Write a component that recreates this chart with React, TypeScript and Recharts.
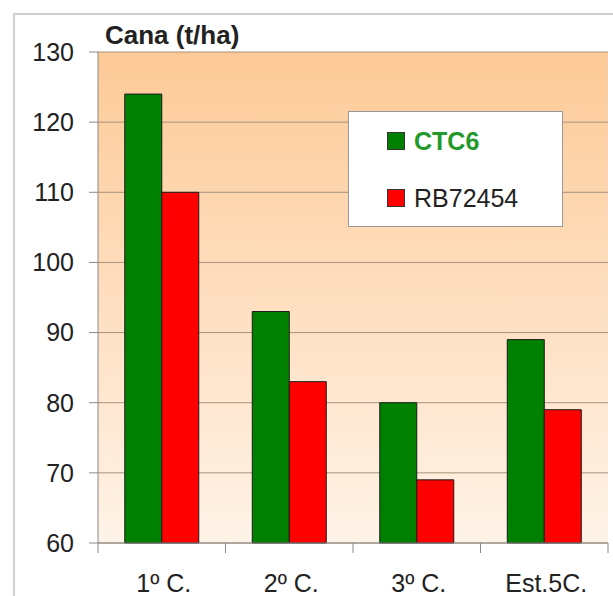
import React from "react";
import { BarChart, Bar, XAxis, YAxis, CartesianGrid } from "recharts";

const categories = ["1º C.", "2º C.", "3º C.", "Est.5C."];
const ctc6 = [124, 93, 80, 89];
const rb72454 = [110, 83, 69, 79];
const yTicks = [60, 70, 80, 90, 100, 110, 120, 130];

const series = [
  { key: "CTC6", fill: "#008000", text: "#22992a", bold: true },
  { key: "RB72454", fill: "#ff0000", text: "#222", bold: false },
];

const data = categories.map((name, i) => ({
  name,
  CTC6: ctc6[i],
  RB72454: rb72454[i],
}));

const FONT = "'Liberation Sans', Arial, sans-serif";

const XTick = (props: any) => {
  const { x, y, payload, index } = props;
  const half = payload?.offset || 63.75;
  return (
    <g>
      <line x1={x - half} y1={y} x2={x - half} y2={y + 10} stroke="#888" />
      {index === categories.length - 1 && (
        <line x1={x + half} y1={y} x2={x + half} y2={y + 10} stroke="#888" />
      )}
      <text
        x={x + 2}
        y={y + 49}
        textAnchor="middle"
        fontSize={25}
        fontFamily={FONT}
        fill="#222"
      >
        {payload.value}
      </text>
    </g>
  );
};

export default function App() {
  return (
    <div
      style={{
        position: "absolute",
        left: 0,
        top: 0,
        width: 613,
        height: 596,
        overflow: "hidden",
        background: "#fff",
        fontFamily: FONT,
      }}
    >
      <svg width={0} height={0} style={{ position: "absolute" }}>
        <defs>
          <linearGradient id="bgGrad" x1="0" y1="0" x2="0" y2="1">
            <stop offset="0%" stopColor="#fdca97" />
            <stop offset="100%" stopColor="#fff3e8" />
          </linearGradient>
        </defs>
      </svg>
      <div
        style={{
          position: "absolute",
          left: 13,
          top: 13,
          width: 700,
          height: 700,
          border: "2px solid #cfcfcf",
        }}
      />
      <div style={{ position: "absolute", left: 0, top: 0 }}>
        <BarChart
          width={613}
          height={596}
          data={data}
          margin={{ top: 52, right: 5, left: 0, bottom: 0 }}
          barCategoryGap="21%"
          barGap={0}
        >
          <CartesianGrid
            vertical={false}
            stroke="#a8927c"
            fill="url(#bgGrad)"
            fillOpacity={1}
          />
          <XAxis
            dataKey="name"
            height={53}
            tickSize={0}
            tickMargin={0}
            tickLine={false}
            axisLine={{ stroke: "#888" }}
            tick={<XTick />}
            interval={0}
          />
          <YAxis
            width={98}
            domain={[60, 130]}
            ticks={yTicks}
            interval={0}
            tickSize={9}
            tickMargin={15}
            axisLine={{ stroke: "#888" }}
            tickLine={{ stroke: "#888" }}
            tick={{ fontSize: 25, fill: "#222", fontFamily: FONT }}
          />
          <YAxis
            yAxisId="border"
            orientation="right"
            width={0}
            domain={[60, 130]}
            tick={false}
            tickLine={false}
            axisLine={{ stroke: "#999" }}
          />
          {series.map((s) => (
            <Bar
              key={s.key}
              dataKey={s.key}
              fill={s.fill}
              stroke="#1a1a1a"
              strokeWidth={1}
              isAnimationActive={false}
            />
          ))}
        </BarChart>
      </div>
      <div
        style={{
          position: "absolute",
          left: 18,
          top: 22,
          width: 300,
          paddingLeft: 87,
          fontSize: 26,
          fontWeight: "bold",
          lineHeight: "26px",
          color: "#222",
        }}
      >
        Cana (t/ha)
      </div>
      <div
        style={{
          position: "absolute",
          left: 348,
          top: 111,
          width: 215,
          height: 116,
          boxSizing: "border-box",
          border: "1.5px solid #999",
          background: "#fff",
        }}
      />
      {series.map((s, i) => (
        <div
          key={s.key}
          style={{
            position: "absolute",
            left: 387,
            top: 132 + i * 57,
            height: 18,
            display: "flex",
            alignItems: "center",
            whiteSpace: "nowrap",
          }}
        >
          <div
            style={{
              width: 18,
              height: 18,
              boxSizing: "border-box",
              background: s.fill,
              border: "1.5px solid #333",
              marginRight: 9,
            }}
          />
          <span
            style={{
              fontSize: 25,
              fontWeight: s.bold ? "bold" : "normal",
              color: s.text,
            }}
          >
            {s.key}
          </span>
        </div>
      ))}
    </div>
  );
}
